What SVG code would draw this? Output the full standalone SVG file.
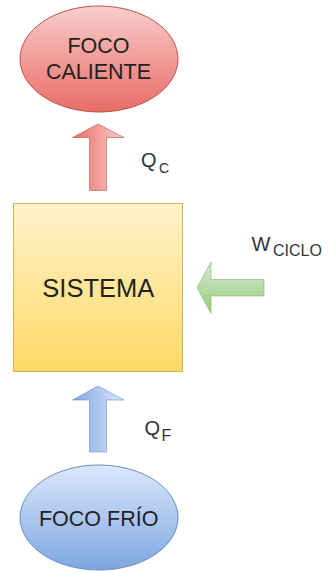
<svg xmlns="http://www.w3.org/2000/svg" width="334" height="572" viewBox="0 0 334 572">
  <defs>
    <linearGradient id="gRed" x1="0" y1="0" x2="0" y2="1">
      <stop offset="0" stop-color="#f8cecc"/>
      <stop offset="1" stop-color="#ea6b66"/>
    </linearGradient>
    <linearGradient id="gBlue" x1="0" y1="0" x2="0" y2="1">
      <stop offset="0" stop-color="#dae8fc"/>
      <stop offset="1" stop-color="#7ea6e0"/>
    </linearGradient>
    <linearGradient id="gYellow" x1="0" y1="0" x2="0" y2="1">
      <stop offset="0" stop-color="#fff2cc"/>
      <stop offset="1" stop-color="#ffd966"/>
    </linearGradient>
    <linearGradient id="gRedArrow" x1="0" y1="0" x2="1" y2="0">
      <stop offset="0" stop-color="#ea6b66"/>
      <stop offset="1" stop-color="#f8cecc"/>
    </linearGradient>
    <linearGradient id="gBlueArrow" x1="0" y1="0" x2="1" y2="0">
      <stop offset="0" stop-color="#7ea6e0"/>
      <stop offset="1" stop-color="#dae8fc"/>
    </linearGradient>
    <linearGradient id="gGreenArrow" x1="0" y1="0" x2="0" y2="1">
      <stop offset="0" stop-color="#d5e8d4"/>
      <stop offset="1" stop-color="#97d077"/>
    </linearGradient>
  </defs>
  <style>
    text { font-family: "Liberation Sans", Arial, sans-serif; fill: #222; }
    .lbl { font-size: 21.5px; text-anchor: middle; }
    .big { font-size: 25.5px; text-anchor: middle; }
    .q { font-size: 20px; fill: #333; }
  </style>

  <g id="foco-caliente">
    <ellipse cx="99" cy="59" rx="79" ry="53" fill="url(#gRed)" stroke="#b85450" stroke-width="1"/>
    <text class="lbl" x="98.5" y="53">FOCO</text>
    <text class="lbl" x="98.5" y="79">CALIENTE</text>
  </g>

  <g id="sistema">
    <rect x="13.5" y="203.5" width="169" height="168" fill="url(#gYellow)" stroke="#d6b656" stroke-width="1"/>
    <text class="big" x="98.3" y="296.7">SISTEMA</text>
  </g>

  <g id="foco-frio">
    <ellipse cx="99" cy="517.5" rx="79" ry="52.5" fill="url(#gBlue)" stroke="#6c8ebf" stroke-width="1"/>
    <text class="lbl" x="98.7" y="526">FOCO FRÍO</text>
  </g>

  <g id="connectors">
    <polygon points="98,124 124,137.5 106.5,137.5 106.5,190.5 89.5,190.5 89.5,137.5 72.5,137.5" fill="url(#gRedArrow)" stroke="#b85450" stroke-opacity="0.6" stroke-width="1"/>
    <polygon points="98,386 124,400 106.5,400 106.5,452 89.5,452 89.5,400 72.5,400" fill="url(#gBlueArrow)" stroke="#6c8ebf" stroke-opacity="0.6" stroke-width="1"/>
    <polygon points="197,287.5 211,262 211,279.5 264,279.5 264,296 211,296 211,313.5" fill="url(#gGreenArrow)" stroke="#82b366" stroke-opacity="0.6" stroke-width="1"/>
    <text class="q" x="141" y="167.3">Q<tspan x="159" y="172.7" font-size="14">C</tspan></text>
    <text class="q" x="251.5" y="251" font-size="21">W<tspan x="273" y="255.7" font-size="16">CICLO</tspan></text>
    <text class="q" x="144.5" y="435">Q<tspan x="161.5" y="440.7" font-size="16">F</tspan></text>
  </g>
</svg>
